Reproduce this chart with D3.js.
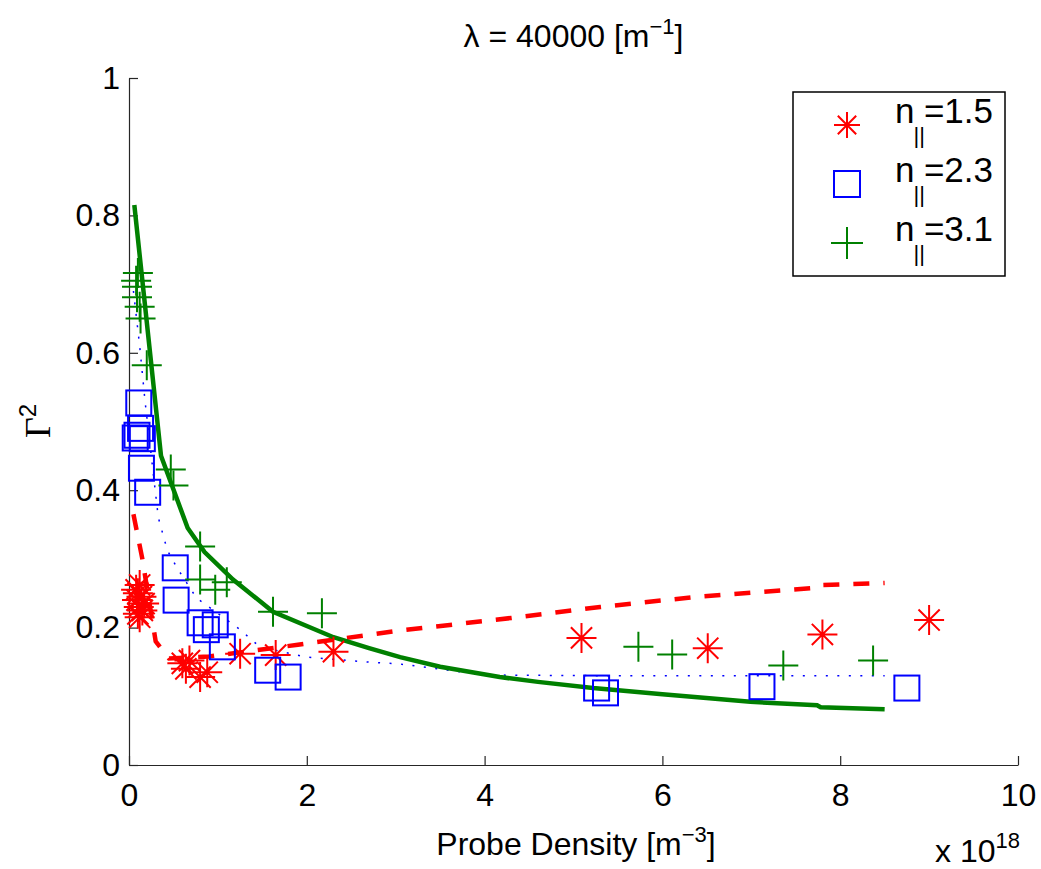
<!DOCTYPE html>
<html>
<head>
<meta charset="utf-8">
<script src="https://cdn.jsdelivr.net/npm/d3@7"></script>
<style>
  body { margin: 0; background: #fff; }
  text { font-family: "Liberation Sans", Arial, Helvetica, sans-serif; fill: #000; }
</style>
</head>
<body>
<div id="chart"></div>
<script>
// ---- data ----
const xTicks = [0, 2, 4, 6, 8, 10];
const yTicks = [0, 0.2, 0.4, 0.6, 0.8, 1];

// n|| = 1.5 measurements (red asterisks), density in 1e18 m^-3
const star15X = [0.08, 0.10, 0.12, 0.09, 0.14, 0.11, 0.15, 0.12, 0.17, 0.10,
                 0.60, 0.64, 0.68, 0.80, 0.88, 1.25, 1.65, 2.30, 5.09, 6.51, 7.80, 9.00];
const star15Y = [0.255, 0.25, 0.262, 0.24, 0.245, 0.23, 0.225, 0.215, 0.235, 0.22,
                 0.148, 0.14, 0.152, 0.128, 0.135, 0.162, 0.16, 0.165, 0.185, 0.17, 0.19, 0.211];

// n|| = 2.3 measurements (blue squares)
const sq23X = [0.11, 0.09, 0.07, 0.13, 0.15, 0.14, 0.21, 0.52, 0.53, 0.80,
               0.87, 0.97, 1.05, 1.56, 1.79, 5.26, 5.36, 7.12, 8.75];
const sq23Y = [0.527, 0.48, 0.476, 0.49, 0.475, 0.432, 0.397, 0.287, 0.24, 0.207,
               0.197, 0.204, 0.172, 0.138, 0.128, 0.112, 0.105, 0.114, 0.112];

// n|| = 3.1 measurements (green plus)
const plus31X = [0.10, 0.08, 0.09, 0.09, 0.12, 0.13, 0.20, 0.47, 0.50, 0.80,
                 0.80, 0.97, 1.10, 1.62, 2.17, 5.73, 6.11, 7.36, 8.37];
const plus31Y = [0.716, 0.705, 0.696, 0.681, 0.667, 0.65, 0.582, 0.43, 0.407, 0.318,
                 0.27, 0.255, 0.266, 0.223, 0.221, 0.172, 0.161, 0.145, 0.152];

// model curves
const fit15X = [0.05, 0.15, 0.30, 0.45, 0.90, 1.90, 3.00, 4.30, 5.30, 6.40, 7.75, 7.80, 8.50];
const fit15Y = [0.365, 0.30, 0.18, 0.155, 0.158, 0.175, 0.195, 0.214, 0.23, 0.245, 0.258, 0.262, 0.265];

const fit23X = [0.05, 0.12, 0.18, 0.33, 0.43, 0.54, 0.76, 1.06, 1.25, 1.47, 2.00, 2.68, 3.05, 4.00, 5.30, 8.50];
const fit23Y = [0.69, 0.61, 0.53, 0.36, 0.313, 0.287, 0.243, 0.215, 0.197, 0.172, 0.157, 0.15, 0.147, 0.131, 0.13, 0.13];

const fit31X = [0.06, 0.36, 0.66, 0.85, 1.17, 1.62, 2.30, 2.70, 3.05, 3.50, 4.17, 4.60, 5.22, 6.00, 6.99, 7.74, 7.78, 8.50];
const fit31Y = [0.815, 0.45, 0.345, 0.31, 0.27, 0.223, 0.186, 0.170, 0.157, 0.143, 0.128, 0.121, 0.112, 0.103, 0.092, 0.087, 0.084, 0.081];

const legendLabels = ["1.5", "2.3", "3.1"];

// ---- layout ----
const W = 1041, H = 869;
const svg = d3.select("#chart").append("svg").attr("width", W).attr("height", H);

const x = d3.scaleLinear().domain([0, 10]).range([129, 1018]);
const y = d3.scaleLinear().domain([0, 1]).range([765, 78]);

const RED = "#ff0000", BLUE = "#0000ff", GREEN = "#008000";

function zip(xs, ys) { return xs.map((v, i) => [v, ys[i]]); }

// axes (MATLAB style, ticks inward, no box)
const fmt = (d) => String(+d.toFixed(1));
const gx = svg.append("g").attr("transform", "translate(0,765)")
  .call(d3.axisBottom(x).tickValues(xTicks).tickFormat(fmt).tickSizeInner(-9).tickSizeOuter(0).tickPadding(18));
const gy = svg.append("g").attr("transform", "translate(129,0)")
  .call(d3.axisLeft(y).tickValues(yTicks).tickFormat(fmt).tickSizeInner(-9).tickSizeOuter(0).tickPadding(9));
[gx, gy].forEach((g) => {
  g.selectAll("path, line").attr("stroke", "#262626").attr("stroke-width", 1.2);
  g.selectAll("text").attr("font-size", 32).attr("font-family", "Liberation Sans, Arial, sans-serif");
});

// curves
const line = d3.line().x((d) => x(d[0])).y((d) => y(d[1]));
svg.append("path").datum(zip(fit23X, fit23Y)).attr("d", line)
  .attr("fill", "none").attr("stroke", BLUE).attr("stroke-width", 1.5).attr("stroke-dasharray", "2,9.5");
svg.append("path").datum(zip(fit15X, fit15Y)).attr("d", line)
  .attr("fill", "none").attr("stroke", RED).attr("stroke-width", 4.5).attr("stroke-dasharray", "16,14");
svg.append("path").datum(zip(fit31X, fit31Y)).attr("d", line)
  .attr("fill", "none").attr("stroke", GREEN).attr("stroke-width", 4.5);

// marker shapes
function star(g, r) {
  const a = r * Math.SQRT1_2;
  g.append("path").attr("d",
    `M${-r},0L${r},0M0,${-r}L0,${r}M${-a},${-a}L${a},${a}M${-a},${a}L${a},${-a}`);
}
function square(g, s) {
  g.append("rect").attr("x", -s / 2).attr("y", -s / 2).attr("width", s).attr("height", s).attr("fill", "none");
}
function plus(g, r) {
  g.append("path").attr("d", `M${-r},0L${r},0M0,${-r}L0,${r}`);
}

function drawMarkers(xs, ys, color, shape) {
  const g = svg.append("g").attr("stroke", color).attr("stroke-width", 2).attr("fill", "none");
  g.selectAll("g").data(zip(xs, ys)).join("g")
    .attr("transform", (d) => `translate(${x(d[0])},${y(d[1])})`)
    .each(function () { shape(d3.select(this)); });
}
drawMarkers(star15X, star15Y, RED, (g) => star(g, 15));
drawMarkers(sq23X, sq23Y, BLUE, (g) => square(g, 25));
drawMarkers(plus31X, plus31Y, GREEN, (g) => plus(g, 15));

// title
const title = svg.append("text").attr("x", 573.5).attr("y", 47).attr("text-anchor", "middle").attr("font-size", 32);
title.append("tspan").text("λ = 40000 [m");
title.append("tspan").attr("dy", -13).attr("font-size", 22).text("−1");
title.append("tspan").attr("dy", 13).text("]");

// x label
const xl = svg.append("text").attr("x", 576).attr("y", 855).attr("text-anchor", "middle").attr("font-size", 32);
xl.append("tspan").text("Probe Density [m");
xl.append("tspan").attr("dy", -13).attr("font-size", 22).text("−3");
xl.append("tspan").attr("dy", 13).text("]");

// exponent
const ex = svg.append("text").attr("x", 1020).attr("y", 862).attr("text-anchor", "end").attr("font-size", 32);
ex.append("tspan").text("x 10");
ex.append("tspan").attr("dy", -14).attr("font-size", 22).text("18");

// y label
const yl = svg.append("text").attr("transform", "translate(50,421) rotate(-90)")
  .attr("text-anchor", "middle").attr("font-size", 36);
yl.append("tspan").attr("font-family", "Liberation Serif, Times New Roman, serif").text("Γ");
yl.append("tspan").attr("dy", -14).attr("font-size", 24).text("2");

// legend
const lg = svg.append("g");
lg.append("rect").attr("x", 793).attr("y", 92).attr("width", 212).attr("height", 184)
  .attr("fill", "#fff").attr("stroke", "#000").attr("stroke-width", 1.5);
const shapes = [[RED, (g) => star(g, 13)], [BLUE, (g) => square(g, 26)], [GREEN, (g) => plus(g, 16)]];
legendLabels.forEach((lab, i) => {
  const cy = 125 + i * 59;
  const mg = lg.append("g").attr("transform", `translate(847,${cy})`)
    .attr("stroke", shapes[i][0]).attr("stroke-width", 2).attr("fill", "none");
  shapes[i][1](mg);
  const t = lg.append("text").attr("x", 895).attr("y", cy - 2).attr("font-size", 35);
  t.append("tspan").text("n");
  t.append("tspan").attr("dy", 20).attr("dx", -1).attr("font-size", 22).text("||");
  t.append("tspan").attr("dy", -20).attr("dx", -1).text("=" + lab);
});
</script>
</body>
</html>
